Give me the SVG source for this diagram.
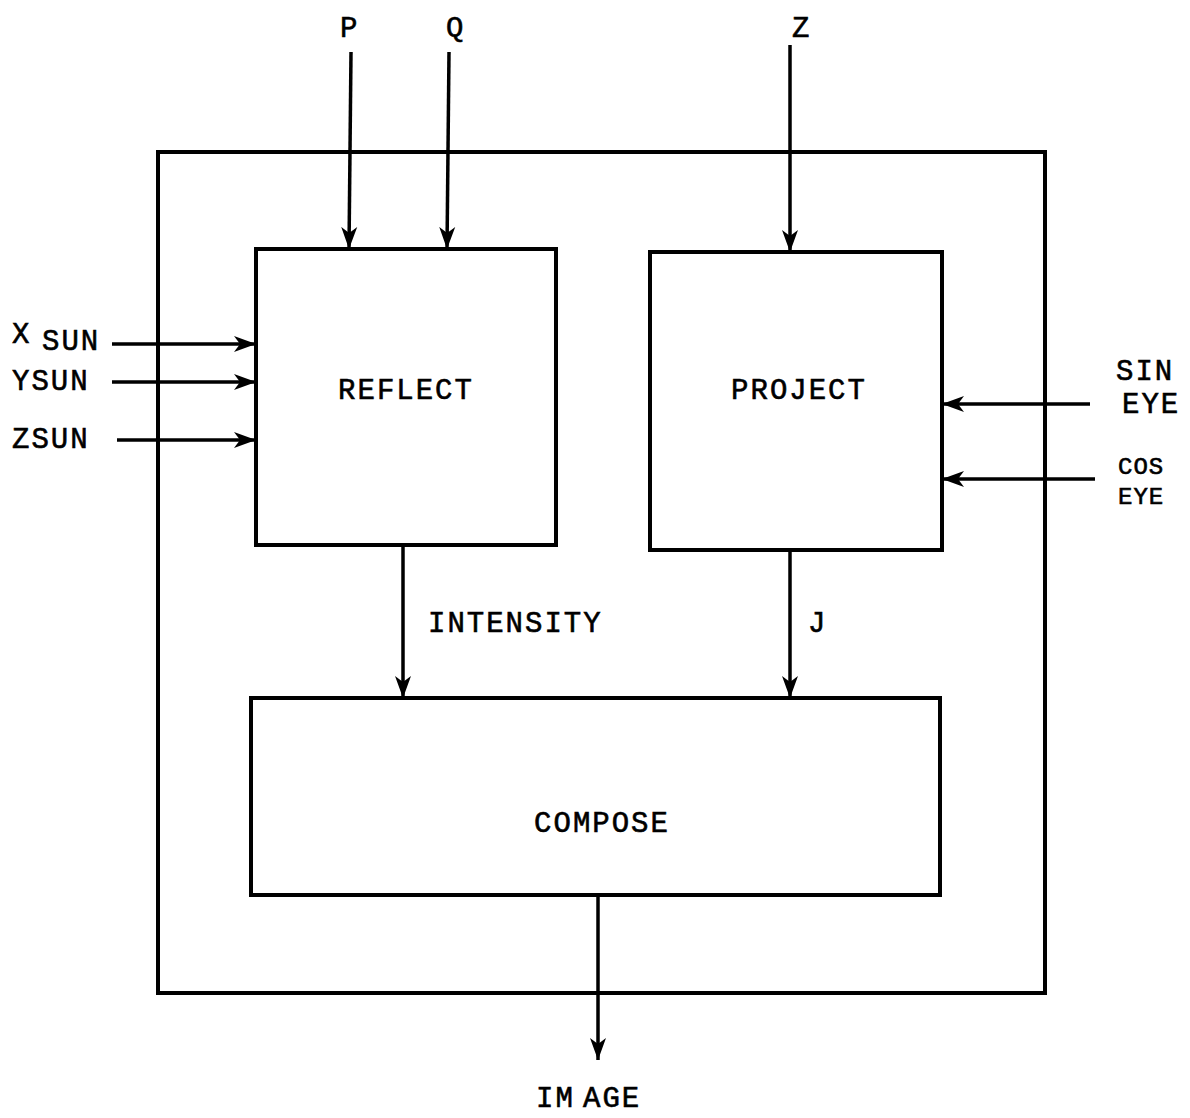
<svg xmlns="http://www.w3.org/2000/svg" width="1190" height="1118" viewBox="0 0 1190 1118">
<style>
.box{fill:none;stroke:#000;stroke-width:4}
.wire{fill:none;stroke:#000;stroke-width:3.5;marker-end:url(#ah)}
text{font-family:"Liberation Mono","DejaVu Sans Mono",monospace;font-size:29px;fill:#000;letter-spacing:2px;stroke:#000;stroke-width:0.6}
.c{text-anchor:middle}
.s{font-size:24px;letter-spacing:1px}
</style>
<defs>
<marker id="ah" markerUnits="userSpaceOnUse" markerWidth="24" markerHeight="24" viewBox="0 0 24 24" refX="22" refY="12" orient="auto">
<path d="M0,4 L22,12 L0,20 L6,12 Z" fill="#000"/>
</marker>
</defs>
<rect width="1190" height="1118" fill="#fff"/>
<g id="frame"><rect class="box" x="158" y="152" width="887" height="841"/></g>
<g id="reflect"><rect class="box" x="256" y="249" width="300" height="296"/><text class="c" x="406" y="399">REFLECT</text></g>
<g id="project"><rect class="box" x="650" y="252" width="292" height="298"/><text class="c" x="799" y="399">PROJECT</text></g>
<g id="compose"><rect class="box" x="251" y="698" width="689" height="197"/><text class="c" x="602" y="832">COMPOSE</text></g>
<g id="labels">
<text x="340" y="37">P</text>
<text x="446" y="37">Q</text>
<text x="792" y="37">Z</text>
<text x="12" y="343">X</text><text x="42" y="350">SUN</text>
<text x="12" y="390">YSUN</text>
<text x="12" y="448">ZSUN</text>
<text x="1116" y="380">SIN</text>
<text x="1122" y="413">EYE</text>
<text class="s" x="1118" y="474">COS</text>
<text class="s" x="1118" y="504">EYE</text>
<text x="428" y="632">INTENSITY</text>
<text x="808" y="632">J</text>
<text x="536" y="1107">IM</text><text x="583" y="1107">AGE</text>
</g>
<g id="connectors">
<line class="wire" x1="351" y1="52" x2="349" y2="249"/>
<line class="wire" x1="449" y1="52" x2="447" y2="249"/>
<line class="wire" x1="790" y1="45" x2="790" y2="252"/>
<line class="wire" x1="112" y1="344" x2="256" y2="344"/>
<line class="wire" x1="112" y1="382" x2="256" y2="382"/>
<line class="wire" x1="117" y1="440" x2="256" y2="440"/>
<line class="wire" x1="1090" y1="404" x2="942" y2="404"/>
<line class="wire" x1="1095" y1="479" x2="942" y2="479"/>
<line class="wire" x1="403" y1="545" x2="403" y2="698"/>
<line class="wire" x1="790" y1="550" x2="790" y2="698"/>
<line class="wire" x1="598" y1="895" x2="598" y2="1060"/>
</g>
</svg>
